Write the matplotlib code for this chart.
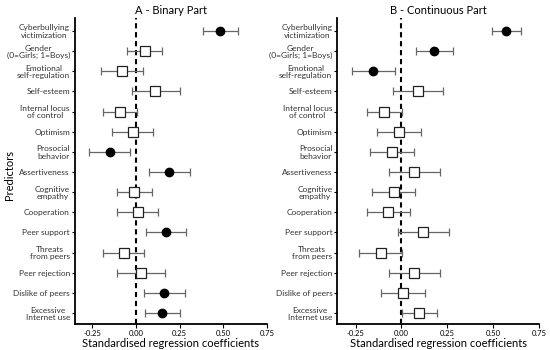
import matplotlib.pyplot as plt

predictors = ["Cyberbullying\nvictimization", "Gender\n(0=Girls; 1=Boys)", "Emotional\nself-regulation",
              "Self-esteem", "Internal locus\nof control", "Optimism", "Prosocial\nbehavior",
              "Assertiveness", "Cognitive\nempathy", "Cooperation", "Peer support",
              "Threats\nfrom peers", "Peer rejection", "Dislike of peers", "Excessive\nInternet use"]

# A - binary part
coef_a = [0.483, 0.050, -0.079, 0.111, -0.090, -0.019, -0.150, 0.192, -0.010, 0.010, 0.171, -0.069, 0.031, 0.160, 0.150]
low_a = [0.385, -0.048, -0.200, -0.025, -0.186, -0.137, -0.267, 0.073, -0.108, -0.108, 0.056, -0.186, -0.108, 0.044, 0.054]
high_a = [0.583, 0.150, 0.039, 0.250, 0.006, 0.098, -0.035, 0.310, 0.090, 0.125, 0.288, 0.048, 0.169, 0.279, 0.250]
sig_a = [1, 0, 0, 0, 0, 0, 1, 1, 0, 0, 1, 0, 0, 1, 1]

# B - continuous part
coef_b = [0.572, 0.180, -0.153, 0.091, -0.093, -0.011, -0.051, 0.069, -0.042, -0.071, 0.120, -0.111, 0.069, 0.009, 0.098]
low_b = [0.496, 0.082, -0.270, -0.047, -0.190, -0.131, -0.171, -0.069, -0.162, -0.190, -0.018, -0.231, -0.069, -0.111, 0.004]
high_b = [0.650, 0.280, -0.035, 0.227, 0.005, 0.109, 0.067, 0.209, 0.076, 0.045, 0.260, 0.005, 0.209, 0.129, 0.196]
sig_b = [1, 1, 1, 0, 0, 0, 0, 0, 0, 0, 0, 0, 0, 0, 0]

plt.rcParams['font.family'] = ['Lato', 'DejaVu Sans']


def draw_panel(ax, coef, low, high, sig, title):
    y = list(range(len(coef)))
    ax.axvline(0, color='black', linestyle=(0, (2.5, 1.8)), linewidth=1.5, zorder=1)
    for i in y:
        ax.errorbar(coef[i], i, xerr=[[coef[i] - low[i]], [high[i] - coef[i]]],
                    fmt='none', ecolor='#666666', elinewidth=0.9, capsize=3, capthick=0.9, zorder=2)
        if sig[i]:
            ax.plot(coef[i], i, 'o', color='black', markersize=6, zorder=3)
        else:
            ax.plot(coef[i], i, 's', markerfacecolor='white', markeredgecolor='#222222',
                    markeredgewidth=0.9, markersize=6.5, zorder=3)
    ax.set_yticks(y)
    ax.set_yticklabels(predictors, fontsize=6, color='#333333', linespacing=1.05,
                       multialignment='center')
    ax.set_ylim(14.55, -0.65)
    ax.set_xlim(-0.35, 0.75)
    ax.set_xticks([-0.25, 0, 0.25, 0.5, 0.75])
    ax.set_xticklabels(["-0.25", "0.00", "0.25", "0.50", "0.75"], fontsize=5.5)
    ax.spines['top'].set_visible(False)
    ax.spines['right'].set_visible(False)
    ax.spines['left'].set_linewidth(1.3)
    ax.spines['bottom'].set_linewidth(1.3)
    ax.tick_params(axis='y', length=2.5, width=0.8, pad=1)
    ax.tick_params(axis='x', length=3, width=0.8, pad=1.5)
    ax.set_xlabel("Standardised regression coefficients", fontsize=8, labelpad=0.5)
    ax.set_title(title, fontsize=8, pad=3)


fig = plt.figure(figsize=[5.5, 3.5], dpi=100)
ax1 = fig.add_axes([0.136, 0.074, 0.349, 0.875])
ax2 = fig.add_axes([0.613, 0.074, 0.367, 0.875])
draw_panel(ax1, coef_a, low_a, high_a, sig_a, "A - Binary Part")
draw_panel(ax2, coef_b, low_b, high_b, sig_b, "B - Continuous Part")
fig.text(0.017, 0.5, "Predictors", rotation=90, va='center', ha='center', fontsize=8)
fig.savefig("out.png", dpi=100)
